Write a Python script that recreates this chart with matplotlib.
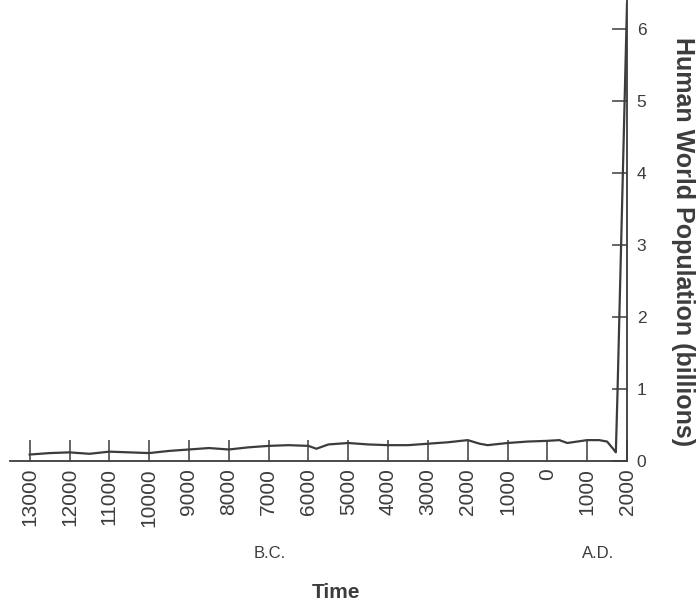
import matplotlib.pyplot as plt
from matplotlib.transforms import blended_transform_factory

plt.rcParams['font.family'] = ['Liberation Sans', 'DejaVu Sans']

# years (negative = B.C.) and population in billions
years = [-13000, -12500, -12000, -11500, -11000, -10500, -10000, -9500,
         -9000, -8500, -8000, -7500, -7000, -6500, -6000, -5800, -5500,
         -5000, -4500, -4000, -3500, -3000, -2500, -2000, -1700, -1500,
         -1000, -500, 0, 300, 500, 1000, 1300, 1500, 1650, 1720, 1760, 2000]
population = [0.09, 0.11, 0.12, 0.10, 0.13, 0.12, 0.11, 0.14,
              0.16, 0.18, 0.16, 0.19, 0.21, 0.22, 0.21, 0.17, 0.23,
              0.25, 0.23, 0.22, 0.22, 0.24, 0.26, 0.29, 0.24, 0.22,
              0.25, 0.27, 0.28, 0.29, 0.25, 0.29, 0.29, 0.27, 0.17, 0.12, 0.92, 6.35]

xticks = [-13000, -12000, -11000, -10000, -9000, -8000, -7000, -6000,
          -5000, -4000, -3000, -2000, -1000, 0, 1000, 2000]
xticklabels = ['13000', '12000', '11000', '10000', '9000', '8000', '7000',
               '6000', '5000', '4000', '3000', '2000', '1000', '0', '1000',
               '2000']
yticks = [0, 1, 2, 3, 4, 5, 6]

INK = '#3c3c3c'

fig = plt.figure(figsize=(6.99, 6.05), dpi=100)
ax = fig.add_axes([0.014, 0.238, 0.883, 0.762])

ax.plot(years, population, color=INK, lw=1.6, solid_joinstyle='round')

ax.set_xlim(-13500, 2000)
ax.set_ylim(0, 6.4)

for s in ['top', 'left']:
    ax.spines[s].set_visible(False)
for s in ['bottom', 'right']:
    ax.spines[s].set_color(INK)
    ax.spines[s].set_linewidth(1.3)

ax.yaxis.tick_right()
ax.set_yticks(yticks)
ax.set_yticklabels([str(v) for v in yticks], fontsize=12.5, color=INK)
ax.tick_params(axis='y', direction='in', length=11, width=1.1,
               color=INK, pad=7)

ax.set_xticks(xticks)
ax.set_xticklabels(xticklabels, rotation=90, fontsize=15, color=INK)
ax.tick_params(axis='x', direction='in', length=15, width=1.1,
               color=INK, pad=5)

ax.yaxis.set_label_position('right')
ax.set_ylabel('Human World Population (billions)', rotation=270,
              fontsize=18, fontweight='bold', color=INK,
              ha='center', va='center')
ax.yaxis.set_label_coords(1.091, 0.475)
ax.set_xlabel('Time', fontsize=15, fontweight='bold', color=INK)
ax.xaxis.set_label_coords(0.528, -0.265)

trans = blended_transform_factory(ax.transData, ax.transAxes)
ax.text(-6970, -0.2, 'B.C.', transform=trans, ha='center', va='center',
        fontsize=12, color=INK)
ax.text(1270, -0.2, 'A.D.', transform=trans, ha='center', va='center',
        fontsize=12, color=INK)

fig.savefig('out.png', dpi=100, facecolor='white')
